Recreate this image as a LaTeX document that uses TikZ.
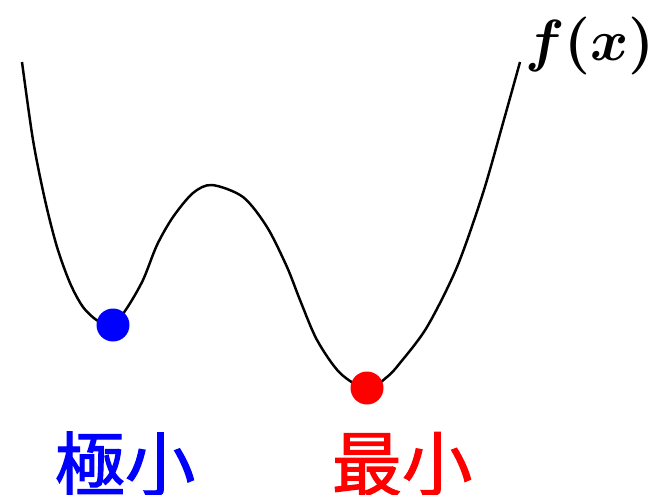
\documentclass[tikz,border=0pt]{standalone}
\usepackage{amsmath,amssymb}
\usepackage{fontspec}
\newfontfamily\cjk[FakeBold=1.6]{Noto Sans CJK JP}
\usepackage{tikz}

\begin{document}
\begin{tikzpicture}[x=0.02cm, y=-0.02cm,
    dot/.style={circle, inner sep=0pt, minimum size=0.66cm},
    word/.style={font=\cjk\fontsize{40}{44}\selectfont}]
      \useasboundingbox (0,0) rectangle (661,494);
      \draw[line width=1.4pt] plot[smooth, tension=0.5] coordinates {
        (22,62) (33,140) (45,200) (57,247) (70,283) (83,307) (98,321)
        (113,325) (127,308) (143,280) (157,245) (173,217) (193,193)
        (212,185) (243,197) (267,227) (287,267) (300,300) (317,340)
        (340,373) (367,389) (387,377) (400,363) (427,327) (457,267)
        (483,193) (503,123) (520,62)};
      \node[dot, fill=blue] (locmin) at (113,325) {};
      \node[dot, fill=red]  (glomin) at (367,388) {};
      \node[anchor=west, inner sep=0pt, scale=3.3]
        (fx) at (524,46) {$\boldsymbol{f(x)}$};
      \node[word, text=blue] (locname) at (125,464) {極小};
      \node[word, text=red]  (gloname) at (402,464) {最小};
    \end{tikzpicture}
\end{document}
